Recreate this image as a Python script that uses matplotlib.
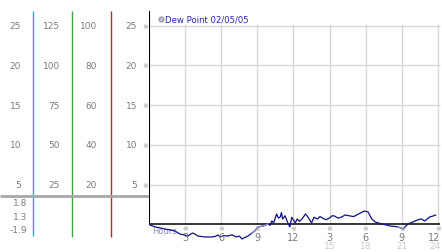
import matplotlib.pyplot as plt
import matplotlib.transforms as mtransforms

# dew point trace, hours since midnight vs value
hours = [0.08, 0.5, 1.0, 1.33, 1.8, 2.16, 2.57, 2.9, 3.24, 3.45, 3.65, 4.07, 4.65,
         5.23, 5.5, 5.73, 5.9, 6.2, 6.56, 6.9, 7.23, 7.5, 7.72, 8.0, 8.22, 8.55,
         8.8, 9.05, 9.47, 9.88, 10.05, 10.2, 10.35, 10.6, 10.75, 10.9, 11.0, 11.1,
         11.3, 11.5, 11.7, 11.85, 12.0, 12.15, 12.3, 12.5, 12.7, 12.85, 13.0, 13.2,
         13.5, 13.7, 14.0, 14.2, 14.4, 14.7, 15.0, 15.2, 15.4, 15.7, 16.0, 16.3,
         16.7, 17.0, 17.4, 17.9, 18.2, 18.5, 18.8, 19.35, 19.7, 20.0, 20.4, 20.7,
         21.1, 21.5, 21.9, 22.3, 22.6, 22.9, 23.3, 23.6, 23.8]
dew = [-0.06, -0.3, -0.45, -0.57, -0.7, -0.82, -1.2, -1.3, -1.45, -1.2, -1.07, -1.45,
       -1.57, -1.57, -1.5, -1.32, -1.57, -1.4, -1.45, -1.3, -1.57, -1.45, -1.82,
       -1.6, -1.45, -1.07, -0.8, -0.31, -0.19, 0.06, -0.1, 0.44, 0.2, 1.32, 0.8,
       0.94, 1.5, 0.69, 1.1, 0.31, -0.31, 0.9, 0.57, 0.2, 0.69, 0.4, 0.69, 1.0,
       1.32, 0.94, 0.19, 0.9, 0.69, 1.0, 0.82, 0.6, 0.82, 1.1, 1.07, 0.8, 0.94,
       1.2, 1.07, 1.0, 1.32, 1.7, 1.57, 0.69, 0.31, 0.06, -0.05, -0.19, -0.25,
       -0.31, -0.57, 0.06, 0.31, 0.57, 0.7, 0.44, 0.94, 1.07, 1.19]

y_ticks = [25, 20, 15, 10, 5]
col_c = ["25", "20", "15", "10", "5"]
col_f = ["125", "100", "75", "50", "25"]
col_pct = ["100", "80", "60", "40", "20"]
col_dew = ["25", "20", "15", "10", "5"]
stats = ["1.8", "1.3", "-1.9"]
x_ticks = [3, 6, 9, 12, 15, 18, 21, 24]
x_labels = ["3", "6", "9", "12", "3", "6", "9", "12"]
x_ticks2 = [15, 18, 21, 24]
x_labels2 = ["15", "18", "21", "24"]

W, H = 442, 253
fig = plt.figure(figsize=(W / 100, H / 100), dpi=100)
ov = fig.add_axes([0, 0, 1, 1])
ov.set_xlim(0, W)
ov.set_ylim(H, 0)
ov.axis("off")

ax = fig.add_axes([149 / W, 0, 292 / W, 241 / H])
ax.set_xlim(0, 24.25)
ax.set_ylim(-3.46, 26.85)
ax.axis("off")

grey = "#7c7c7c"
mark = ["DejaVu Sans", "Noto Sans CJK JP"]

# grid
ax.hlines(y_ticks, 0, 24.2, color="#d8d8d8", lw=1)
ax.vlines(x_ticks, 0, 25.2, color="#d8d8d8", lw=1)
ax.hlines(0, 0, 24.2, color="black", lw=1.1)
ax.vlines(0, 0, 26.85, color="black", lw=1.5)

# data
ax.plot(hours, dew, color="#10108a", lw=0.9)
light = [(8.5, 10.0), (20.6, 21.3)]
for a, b in light:
    hh = [h for h in hours if a <= h <= b]
    dd = [d for h, d in zip(hours, dew) if a <= h <= b]
    ax.plot(hh, dd, color="#9090d8", lw=0.9)

# left value columns, rows aligned to the main y scale
tr = mtransforms.blended_transform_factory(ov.transData, ax.transData)
for cols, xr in [(col_c, 21), (col_f, 60), (col_pct, 97), (col_dew, 137)]:
    for v, s in zip(y_ticks, cols):
        ax.text(xr, v, s, transform=tr, ha="right", va="center", fontsize=6.5, color=grey)
for v in y_ticks:
    ax.text(145, v, "※", transform=tr, ha="center", va="center", fontsize=5, color="#999999", family=mark)
for s, yp in zip(stats, [204, 218, 231]):
    ov.text(27, yp, s, ha="right", va="center", fontsize=6.5, color=grey)

ov.vlines(33, 12, 237, color="#3ba0d0", lw=1)
ov.vlines(72, 12, 238, color="#3aa83a", lw=1)
ov.vlines(111, 12, 238, color="#b03030", lw=1)
ov.hlines(197, 0, 149, color="#a8a8a8", lw=2)

# x labels (the last one sits against the right edge)
tx = mtransforms.blended_transform_factory(ax.transData, ov.transData)
for h, s in zip(x_ticks, x_labels):
    ha = "right" if h == x_ticks[-1] else "center"
    hx = 24.2 if h == x_ticks[-1] else h
    ax.text(hx, 238.5, s, transform=tx, ha=ha, va="center", fontsize=7, color=grey)
    ax.text(h, 229.5, "※", transform=tx, ha="center", va="center", fontsize=5, color="#999999", family=mark)
for h, s in zip(x_ticks2, x_labels2):
    ha = "right" if h == x_ticks2[-1] else "center"
    hx = 24.2 if h == x_ticks2[-1] else h
    ax.text(hx, 247, s, transform=tx, ha=ha, va="center", fontsize=6.5, color="#cccccc")
ov.text(152, 232, "Hours", ha="left", va="center", fontsize=6, color="#8a8ac0")

# legend
ov.scatter([161], [20], s=14, color="#bdbdbd", edgecolors="#8a8a8a", linewidths=0.6)
ov.text(165, 20, "Dew Point 02/05/05", ha="left", va="center", fontsize=6.1, color="#2626b4")

fig.savefig("out.png", dpi=100)
